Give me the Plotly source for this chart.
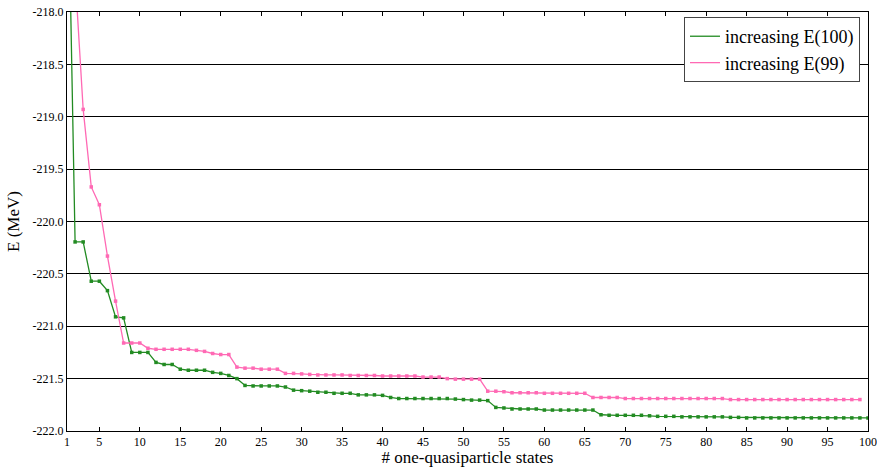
import plotly.graph_objects as go

# Data
states_e100 = list(range(1, 101))
energy_e100 = [
    -216.10, -220.195, -220.195, -220.57, -220.57, -220.66, -220.91, -220.92, -221.25, -221.25,
    -221.25, -221.345, -221.365, -221.365, -221.41, -221.42, -221.42, -221.42, -221.44, -221.45,
    -221.47, -221.50, -221.565, -221.57, -221.57, -221.57, -221.57, -221.58, -221.61, -221.615,
    -221.62, -221.63, -221.63, -221.64, -221.64, -221.64, -221.655, -221.655, -221.655, -221.66,
    -221.68, -221.69, -221.69, -221.69, -221.69, -221.69, -221.69, -221.69, -221.695, -221.70,
    -221.705, -221.705, -221.71, -221.775, -221.78, -221.79, -221.79, -221.79, -221.79, -221.80,
    -221.80, -221.80, -221.80, -221.80, -221.80, -221.80, -221.845, -221.85, -221.85, -221.85,
    -221.85, -221.85, -221.855, -221.86, -221.86, -221.86, -221.865, -221.865, -221.865, -221.865,
    -221.865, -221.865, -221.87, -221.87, -221.875, -221.875, -221.875, -221.875, -221.875, -221.875,
    -221.875, -221.875, -221.875, -221.875, -221.875, -221.875, -221.875, -221.875, -221.875, -221.875,
]

states_e99 = list(range(1, 100))
energy_e99 = [
    -216.50, -217.65, -218.93, -219.67, -219.84, -220.33, -220.76, -221.16, -221.16, -221.16,
    -221.21, -221.22, -221.22, -221.22, -221.22, -221.22, -221.23, -221.24, -221.26, -221.27,
    -221.27, -221.39, -221.40, -221.40, -221.41, -221.41, -221.41, -221.45, -221.45, -221.455,
    -221.46, -221.465, -221.465, -221.465, -221.465, -221.47, -221.47, -221.47, -221.47, -221.475,
    -221.475, -221.475, -221.475, -221.475, -221.485, -221.485, -221.485, -221.50, -221.505, -221.505,
    -221.505, -221.505, -221.62, -221.62, -221.625, -221.635, -221.635, -221.635, -221.635, -221.64,
    -221.64, -221.64, -221.64, -221.64, -221.64, -221.68, -221.68, -221.68, -221.68, -221.69,
    -221.69, -221.69, -221.69, -221.69, -221.69, -221.69, -221.69, -221.69, -221.69, -221.69,
    -221.69, -221.69, -221.70, -221.70, -221.70, -221.70, -221.70, -221.70, -221.70, -221.70,
    -221.70, -221.70, -221.70, -221.70, -221.70, -221.70, -221.70, -221.70, -221.70,
]

series_names = ["increasing E(100)", "increasing E(99)"]
series_colors = ["#228B22", "#FF69B4"]

x_tick_vals = [1, 5, 10, 15, 20, 25, 30, 35, 40, 45, 50, 55, 60, 65, 70, 75, 80, 85, 90, 95, 100]
y_tick_vals = [-218.0, -218.5, -219.0, -219.5, -220.0, -220.5, -221.0, -221.5, -222.0]
y_tick_text = ["-218.0", "-218.5", "-219.0", "-219.5", "-220.0", "-220.5", "-221.0", "-221.5", "-222.0"]

FONT = "Liberation Serif"

fig = go.Figure()
for xs, ys, name, color in [(states_e100, energy_e100, series_names[0], series_colors[0]),
                            (states_e99, energy_e99, series_names[1], series_colors[1])]:
    fig.add_trace(go.Scatter(
        x=xs, y=ys, mode="lines+markers", name=name, showlegend=False,
        line=dict(color=color, width=1.3),
        marker=dict(symbol="square", size=3.5, color=color),
    ))
# legend entries (line only, as in the reference)
for name, color in zip(series_names, series_colors):
    fig.add_trace(go.Scatter(
        x=[None], y=[None], mode="lines", name=name, showlegend=True,
        line=dict(color=color, width=1.3),
    ))

fig.update_layout(
    width=877, height=467,
    margin=dict(l=67, r=9, t=12, b=36),
    paper_bgcolor="white", plot_bgcolor="white",
    font=dict(family=FONT, size=12, color="black"),
    showlegend=True,
    legend=dict(
        x=0.99, y=0.988, xanchor="right", yanchor="top",
        bgcolor="white", bordercolor="#444", borderwidth=1,
        font=dict(family=FONT, size=18, color="black"),
        itemwidth=30, tracegroupgap=0,
    ),
    xaxis=dict(
        range=[1, 100], tickvals=x_tick_vals, showgrid=False, zeroline=False,
        showline=True, linecolor="black", linewidth=1, mirror="ticks",
        ticks="inside", ticklen=4, tickcolor="black", automargin=False,
        tickfont=dict(family=FONT, size=12),
        title=dict(text="# one-quasiparticle states", font=dict(family=FONT, size=17), standoff=2),
    ),
    yaxis=dict(
        range=[-222.0, -218.0], tickvals=y_tick_vals, ticktext=y_tick_text,
        showgrid=True, gridcolor="black", gridwidth=1, zeroline=False,
        showline=True, linecolor="black", linewidth=1, mirror=True, automargin=False,
        ticks="", tickfont=dict(family=FONT, size=12),
        title=dict(text="E (MeV)", font=dict(family=FONT, size=17), standoff=8),
    ),
)

fig.write_html("out.html")
